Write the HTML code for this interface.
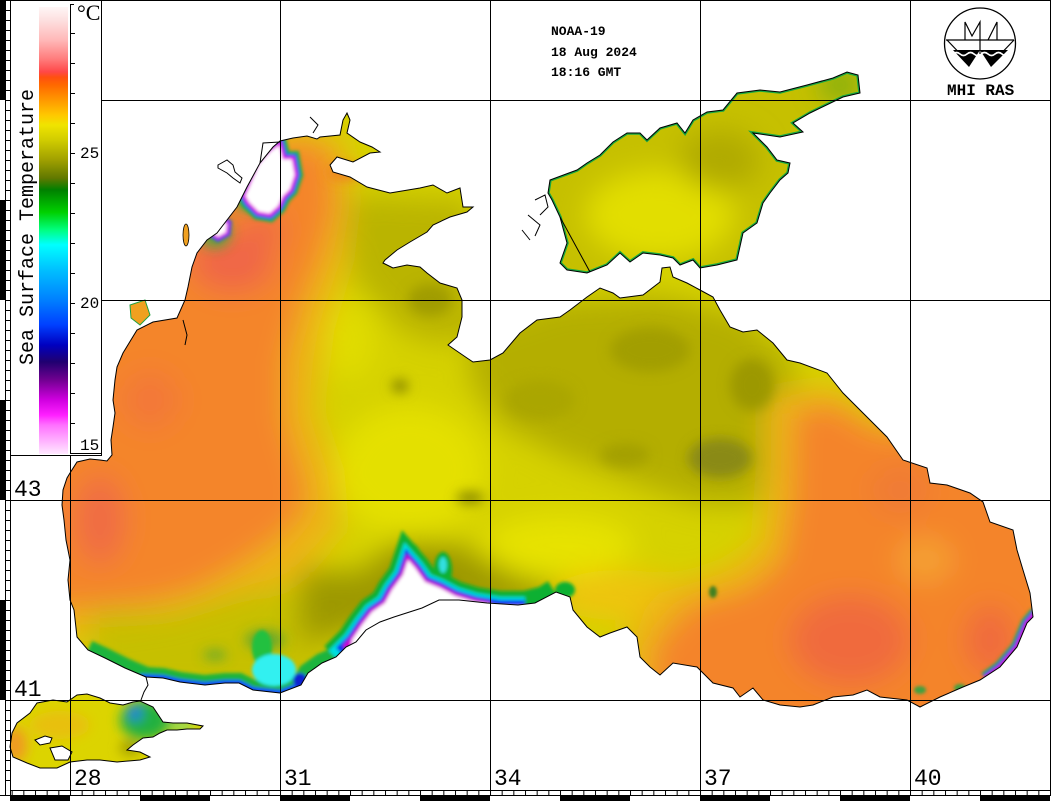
<!DOCTYPE html>
<html><head><meta charset="utf-8"><style>
html,body{margin:0;padding:0;background:#fff;}
svg{display:block;}
text{font-family:"Liberation Mono",monospace;}
</style></head><body>
<svg width="1051" height="801" viewBox="0 0 1051 801" xmlns="http://www.w3.org/2000/svg">
<defs>
<linearGradient id="cb" x1="0" y1="7" x2="0" y2="454" gradientUnits="userSpaceOnUse">
<stop offset="0" stop-color="#fff6f6"/><stop offset="0.029" stop-color="#fde0e0"/><stop offset="0.074" stop-color="#ffb8b8"/>
<stop offset="0.119" stop-color="#ff7878"/><stop offset="0.145" stop-color="#ff4848"/><stop offset="0.157" stop-color="#ff5010"/>
<stop offset="0.174" stop-color="#ff6800"/><stop offset="0.208" stop-color="#ff9800"/><stop offset="0.242" stop-color="#ffc800"/>
<stop offset="0.264" stop-color="#f0e400"/><stop offset="0.298" stop-color="#d0cc00"/><stop offset="0.342" stop-color="#a0a000"/>
<stop offset="0.383" stop-color="#607800"/><stop offset="0.409" stop-color="#008000"/><stop offset="0.459" stop-color="#00d000"/>
<stop offset="0.499" stop-color="#00ff80"/><stop offset="0.532" stop-color="#00ffff"/><stop offset="0.588" stop-color="#00c0ff"/>
<stop offset="0.655" stop-color="#0080ff"/><stop offset="0.711" stop-color="#0040ff"/><stop offset="0.756" stop-color="#0000c0"/>
<stop offset="0.794" stop-color="#200070"/><stop offset="0.834" stop-color="#700090"/><stop offset="0.879" stop-color="#d000e0"/>
<stop offset="0.913" stop-color="#ff20ff"/><stop offset="0.935" stop-color="#ff70ff"/><stop offset="1" stop-color="#ffe8ff"/>
</linearGradient>
<clipPath id="cs"><polygon points="146,677 125,668 105,658 88,650 77,637 74,610 70,600 68,580 70,560 66,540 64,520 62,505 63,490 67,478 70,473 77,462 90,459 100,460 107,461 112,455 111,440 113,427 115,413 113,400 115,380 117,367 123,353 137,330 153,322 177,318 185,300 188,287 192,267 197,253 207,240 217,233 227,220 237,207 247,187 260,163 273,147 280,141 293,138 307,136 317,139 320,137 340,135 343,120 347,113 350,120 347,133 360,142 372,147 380,152 370,153 353,162 337,157 330,165 333,172 350,177 367,187 390,193 420,188 433,185 447,193 460,188 463,207 473,207 467,212 450,217 433,225 427,232 410,242 397,250 385,260 383,263 393,268 407,265 420,267 427,273 440,283 457,288 462,300 462,317 457,337 448,345 467,358 473,362 490,360 503,353 520,333 537,320 560,317 570,310 587,297 600,288 613,293 620,298 643,295 660,282 662,268 670,267 673,277 687,283 700,290 713,297 720,310 730,327 743,332 757,330 773,343 787,360 800,363 827,373 843,393 867,417 887,437 903,460 927,468 930,483 947,485 970,493 983,502 990,522 1013,530 1017,550 1023,570 1030,593 1033,617 1027,623 1017,647 1000,667 980,680 963,687 940,697 920,707 907,700 880,697 867,690 853,695 833,697 813,705 800,707 780,705 763,700 753,688 740,697 733,688 713,683 697,667 673,663 660,675 650,667 640,657 637,637 627,627 610,633 600,637 587,627 573,610 570,597 556,592 535,603 518,605 487,603 459,600 439,600 422,608 394,617 380,622 366,630 356,642 346,647 336,657 322,663 308,673 301,685 280,693 253,690 239,683 225,683 205,685 180,682 163,678"/></clipPath>
<clipPath id="ca"><polygon points="567,270 587,273 607,265 620,253 630,262 643,253 660,255 673,258 680,265 693,260 700,268 717,265 737,260 743,233 757,223 763,203 770,193 780,180 788,173 790,163 777,160 767,147 753,133 780,137 803,132 793,123 810,113 843,97 860,93 858,75 847,72 833,78 807,85 780,92 760,90 737,93 723,110 707,112 693,120 685,133 677,123 660,128 647,140 640,133 627,133 613,142 600,155 587,163 577,170 550,180 548,193 552,200 560,217 567,243 560,263"/></clipPath>
<clipPath id="cm"><polygon points="10,747 12,733 17,723 30,713 37,703 53,700 67,702 77,695 87,694 100,698 110,703 123,705 133,702 140,701 153,707 163,722 173,723 187,723 203,726 200,729 187,729 177,730 167,730 160,733 153,737 143,738 133,745 127,750 140,752 150,757 140,760 117,762 100,760 87,760 70,762 57,768 40,768 27,763 13,757"/></clipPath>
<filter id="b14" filterUnits="userSpaceOnUse" x="0" y="0" width="1051" height="801"><feGaussianBlur stdDeviation="14"/></filter>
<filter id="b6" filterUnits="userSpaceOnUse" x="0" y="0" width="1051" height="801"><feGaussianBlur stdDeviation="6"/></filter>
<filter id="b2" filterUnits="userSpaceOnUse" x="0" y="0" width="1051" height="801"><feGaussianBlur stdDeviation="1.5"/></filter>
<pattern id="bt" x="70" y="0" width="11.6667" height="801" patternUnits="userSpaceOnUse"><rect x="0" y="790" width="1" height="5" fill="#000"/></pattern>
<pattern id="lt" x="0" y="0" width="10" height="10" patternUnits="userSpaceOnUse"><rect x="5" y="0" width="5" height="1" fill="#000"/></pattern>
</defs>

<rect x="0" y="0" width="1051" height="801" fill="#fff"/>

<!-- Black Sea -->
<g clip-path="url(#cs)">
<rect x="0" y="0" width="1051" height="801" fill="#d6d200"/>
<g filter="url(#b14)">
<polygon points="470,330 560,300 660,295 740,315 790,355 805,420 790,470 750,505 700,505 640,485 560,455 500,425 470,380" fill="#b4ae00"/>
<polygon points="340,195 470,200 480,330 440,345 400,330 355,280" fill="#bab400"/>
<ellipse cx="410" cy="470" rx="75" ry="65" fill="#e4e000"/>
<ellipse cx="560" cy="545" rx="75" ry="30" fill="#e6e200"/>
<ellipse cx="350" cy="340" rx="25" ry="40" fill="#e0dc00"/>
<ellipse cx="620" cy="595" rx="70" ry="25" fill="#eec410"/>
<polygon points="20,290 100,260 160,200 220,160 290,125 345,140 350,200 345,260 325,330 315,410 335,470 340,530 300,575 240,610 170,630 100,640 20,640" fill="#ecb414"/>
<polygon points="20,300 100,280 160,220 220,180 290,140 330,150 335,205 322,255 300,305 285,360 285,420 300,470 308,505 282,535 240,565 195,590 150,602 90,608 20,608" fill="#f4852c"/>
<ellipse cx="232" cy="262" rx="42" ry="30" fill="#f06646"/>
<ellipse cx="265" cy="230" rx="20" ry="15" fill="#f06646"/>
<ellipse cx="100" cy="520" rx="25" ry="45" fill="#f06c44"/>
<ellipse cx="150" cy="400" rx="30" ry="30" fill="#f27040" opacity="0.6"/>
<polygon points="765,395 830,385 880,420 1060,440 1060,740 620,740 625,635 660,590 730,565 760,540 765,470" fill="#ecb414"/>
<polygon points="795,410 835,405 875,430 1060,450 1060,740 650,740 655,645 690,605 750,588 782,560 792,500" fill="#f4842c"/>
<ellipse cx="850" cy="640" rx="60" ry="45" fill="#f06a3c"/>
<ellipse cx="990" cy="640" rx="25" ry="35" fill="#f06a3c"/>
<ellipse cx="900" cy="490" rx="30" ry="25" fill="#f07a34"/>
<ellipse cx="925" cy="560" rx="28" ry="22" fill="#f4a030"/>
<polygon points="90,612 170,612 250,590 330,585 345,640 300,695 90,695" fill="#c4be00" opacity="0.9"/>
<polygon points="300,570 360,572 400,540 460,545 520,578 560,588 545,612 460,606 400,612 350,632 300,642" fill="#9c9800"/>
</g>
<g filter="url(#b6)">
<ellipse cx="720" cy="458" rx="32" ry="20" fill="#8a8a12"/>
<ellipse cx="650" cy="350" rx="40" ry="22" fill="#a29e00"/>
<ellipse cx="752" cy="385" rx="22" ry="26" fill="#9c9800"/>
<ellipse cx="540" cy="400" rx="35" ry="20" fill="#aaa600"/>
<ellipse cx="430" cy="300" rx="22" ry="16" fill="#a09c00"/>
<ellipse cx="400" cy="386" rx="8" ry="6" fill="#7e7e00"/>
<ellipse cx="470" cy="498" rx="14" ry="6" fill="#868600"/>
<ellipse cx="625" cy="455" rx="25" ry="12" fill="#a4a000"/>
<ellipse cx="215" cy="232" rx="16" ry="16" fill="#30b040" opacity="0.8"/>
<ellipse cx="250" cy="200" rx="14" ry="10" fill="#30b050"/>
<ellipse cx="345" cy="172" rx="18" ry="8" fill="#f08020"/>
<ellipse cx="265" cy="640" rx="20" ry="10" fill="#40a040" opacity="0.7"/>
<ellipse cx="215" cy="655" rx="12" ry="5" fill="#40a040" opacity="0.7"/>
</g>
<g filter="url(#b2)">
<path d="M88,650 L105,658 L125,668 L146,677 L163,678 L180,682 L205,685 L225,683 L239,683 L253,690 L280,693 L301,685 L308,673 L322,663 L336,657" fill="none" stroke="#1cb43c" stroke-width="20"/>
<path d="M140,677 L163,678 L180,682 L205,685 L225,683 L239,683 L253,690 L280,693 L301,685" fill="none" stroke="#1848ff" stroke-width="6"/>
<ellipse cx="262" cy="648" rx="10" ry="18" fill="#20c040"/>
<ellipse cx="274" cy="670" rx="22" ry="16" fill="#30f0f0"/>
<ellipse cx="300" cy="680" rx="7" ry="7" fill="#1020d0"/>
<path d="M335,657 L352,640 L362,625 L372,612 L385,603 L392,590 L403,575 L408,560 L415,568 L425,582 L440,588 L455,596 L475,602 L500,606 L525,606 L545,601 L556,594" fill="none" stroke="#10b030" stroke-width="30"/>
<ellipse cx="443" cy="570" rx="9" ry="18" fill="#10b030"/>
<ellipse cx="410" cy="555" rx="10" ry="12" fill="#10b030"/>
<ellipse cx="565" cy="590" rx="10" ry="8" fill="#10b030"/>
<ellipse cx="443" cy="565" rx="4" ry="8" fill="#30e0e0"/>
<path d="M335,657 L352,640 L362,625 L372,612 L385,603 L392,590 L403,575 L408,560 L415,568 L425,582 L440,588 L455,596 L475,602 L500,606 L525,606" fill="none" stroke="#00e0e0" stroke-width="18"/>
<path d="M340,652 L352,640 L362,625 L372,612 L385,603 L392,590 L403,575 L408,560 L415,568 L425,582 L440,588 L455,596 L475,602 L500,606 L525,606" fill="none" stroke="#1030f0" stroke-width="12"/>
<path d="M345,648 L352,640 L362,625 L372,612 L385,603 L392,590 L403,575 L408,560 L415,568 L425,582 L440,588 L455,596 L475,602 L490,605" fill="none" stroke="#d000d0" stroke-width="6"/>
<polygon points="352,640 362,625 372,612 385,603 392,590 403,575 408,560 415,568 425,582 440,588 455,596 475,602 500,606 525,606 530,660 350,660" fill="#fff"/>
<polygon points="258,163 270,150 280,143 284,158 293,158 296,175 291,190 284,197 279,207 270,215 258,213 248,203 244,196" fill="none" stroke="#20b040" stroke-width="14"/>
<polygon points="258,163 270,150 280,143 284,158 293,158 296,175 291,190 284,197 279,207 270,215 258,213 248,203 244,196" fill="none" stroke="#1848ff" stroke-width="8"/>
<polygon points="258,163 270,150 280,143 284,158 293,158 296,175 291,190 284,197 279,207 270,215 258,213 248,203 244,196" fill="#fff" stroke="#e000e0" stroke-width="3"/>
<polygon points="210,224 220,219 228,223 227,233 218,238 211,233" fill="none" stroke="#1848ff" stroke-width="7"/>
<polygon points="210,224 220,219 228,223 227,233 218,238 211,233" fill="#fff" stroke="#e000e0" stroke-width="2.5"/>
<path d="M1036,612 L1027,623 L1017,647 L1000,667 L985,678" fill="none" stroke="#20b040" stroke-width="12"/>
<path d="M1036,612 L1027,623 L1017,647 L1000,667 L985,678" fill="none" stroke="#1030f0" stroke-width="8"/>
<path d="M1036,612 L1027,623 L1017,647 L1000,667 L985,678" fill="none" stroke="#e000e0" stroke-width="3.5"/>
<ellipse cx="713" cy="592" rx="4" ry="6" fill="#408020"/>
<ellipse cx="920" cy="690" rx="6" ry="4" fill="#40a040"/>
<ellipse cx="960" cy="688" rx="6" ry="4" fill="#40a040"/>
</g>
</g>
<polygon points="146,677 125,668 105,658 88,650 77,637 74,610 70,600 68,580 70,560 66,540 64,520 62,505 63,490 67,478 70,473 77,462 90,459 100,460 107,461 112,455 111,440 113,427 115,413 113,400 115,380 117,367 123,353 137,330 153,322 177,318 185,300 188,287 192,267 197,253 207,240 217,233 227,220 237,207 247,187 260,163 273,147 280,141 293,138 307,136 317,139 320,137 340,135 343,120 347,113 350,120 347,133 360,142 372,147 380,152 370,153 353,162 337,157 330,165 333,172 350,177 367,187 390,193 420,188 433,185 447,193 460,188 463,207 473,207 467,212 450,217 433,225 427,232 410,242 397,250 385,260 383,263 393,268 407,265 420,267 427,273 440,283 457,288 462,300 462,317 457,337 448,345 467,358 473,362 490,360 503,353 520,333 537,320 560,317 570,310 587,297 600,288 613,293 620,298 643,295 660,282 662,268 670,267 673,277 687,283 700,290 713,297 720,310 730,327 743,332 757,330 773,343 787,360 800,363 827,373 843,393 867,417 887,437 903,460 927,468 930,483 947,485 970,493 983,502 990,522 1013,530 1017,550 1023,570 1030,593 1033,617 1027,623 1017,647 1000,667 980,680 963,687 940,697 920,707 907,700 880,697 867,690 853,695 833,697 813,705 800,707 780,705 763,700 753,688 740,697 733,688 713,683 697,667 673,663 660,675 650,667 640,657 637,637 627,627 610,633 600,637 587,627 573,610 570,597 556,592 535,603 518,605 487,603 459,600 439,600 422,608 394,617 380,622 366,630 356,642 346,647 336,657 322,663 308,673 301,685 280,693 253,690 239,683 225,683 205,685 180,682 163,678" fill="none" stroke="#000" stroke-width="1"/>

<!-- Azov -->
<g clip-path="url(#ca)">
<rect x="540" y="60" width="330" height="220" fill="#c6c000"/>
<g filter="url(#b14)">
<ellipse cx="660" cy="215" rx="75" ry="45" fill="#e2de00"/>
<ellipse cx="720" cy="160" rx="40" ry="30" fill="#b0aa00"/>
<ellipse cx="840" cy="85" rx="20" ry="10" fill="#50a020"/>
</g>
<polygon points="567,270 587,273 607,265 620,253 630,262 643,253 660,255 673,258 680,265 693,260 700,268 717,265 737,260 743,233 757,223 763,203 770,193 780,180 788,173 790,163 777,160 767,147 753,133 780,137 803,132 793,123 810,113 843,97 860,93 858,75 847,72 833,78 807,85 780,92 760,90 737,93 723,110 707,112 693,120 685,133 677,123 660,128 647,140 640,133 627,133 613,142 600,155 587,163 577,170 550,180 548,193 552,200 560,217 567,243 560,263" fill="none" stroke="#18a840" stroke-width="3.5"/>
</g>
<polygon points="567,270 587,273 607,265 620,253 630,262 643,253 660,255 673,258 680,265 693,260 700,268 717,265 737,260 743,233 757,223 763,203 770,193 780,180 788,173 790,163 777,160 767,147 753,133 780,137 803,132 793,123 810,113 843,97 860,93 858,75 847,72 833,78 807,85 780,92 760,90 737,93 723,110 707,112 693,120 685,133 677,123 660,128 647,140 640,133 627,133 613,142 600,155 587,163 577,170 550,180 548,193 552,200 560,217 567,243 560,263" fill="none" stroke="#000" stroke-width="1"/>
<path d="M560,217 L590,272 M535,200 L545,195 L548,207 L540,215 M528,215 L540,225 L535,236 M522,230 L530,240" fill="none" stroke="#000" stroke-width="1"/>

<!-- Marmara -->
<g clip-path="url(#cm)">
<rect x="0" y="690" width="210" height="80" fill="#dcd400"/>
<g filter="url(#b6)">
<ellipse cx="15" cy="745" rx="12" ry="18" fill="#f09a20"/>
<ellipse cx="60" cy="725" rx="30" ry="14" fill="#e8c010"/>
<ellipse cx="145" cy="720" rx="25" ry="20" fill="#20b040"/>
<ellipse cx="135" cy="713" rx="6" ry="7" fill="#2060ff"/>
<ellipse cx="182" cy="726" rx="12" ry="3" fill="#30e0d0"/>
<ellipse cx="130" cy="748" rx="10" ry="6" fill="#909000"/>
</g>
<polygon points="35,740 45,736 52,738 50,743 40,745" fill="#fff" stroke="#000" stroke-width="1"/>
<polygon points="50,748 62,746 72,752 68,760 55,760" fill="#fff" stroke="#000" stroke-width="1"/>
</g>
<polygon points="10,747 12,733 17,723 30,713 37,703 53,700 67,702 77,695 87,694 100,698 110,703 123,705 133,702 140,701 153,707 163,722 173,723 187,723 203,726 200,729 187,729 177,730 167,730 160,733 153,737 143,738 133,745 127,750 140,752 150,757 140,760 117,762 100,760 87,760 70,762 57,768 40,768 27,763 13,757" fill="none" stroke="#000" stroke-width="1"/>

<!-- small outlines on land -->
<path d="M146,677 L148,685 L144,692 L141,700 M218,165 L227,160 L233,165 L235,172 L242,178 L240,183 L233,178 L227,173 L218,168 Z M260,163 L263,143 L280,142 M310,117 L318,125 L313,133 M183,320 L187,335 L185,345" fill="none" stroke="#000" stroke-width="1"/>
<ellipse cx="186" cy="235" rx="3" ry="11" fill="#f0a020" stroke="#000" stroke-width="0.8"/>
<polygon points="130,305 145,300 150,315 140,325 131,318" fill="#f0a020" stroke="#20a040" stroke-width="1"/>

<!-- grid lines -->
<g fill="#000">
<rect x="70" y="4" width="1" height="786"/>
<rect x="280" y="0" width="1" height="790"/>
<rect x="490" y="0" width="1" height="790"/>
<rect x="700" y="0" width="1" height="790"/>
<rect x="910" y="0" width="1" height="790"/>
<rect x="101" y="100" width="949" height="1"/>
<rect x="101" y="300" width="949" height="1"/>
<rect x="10" y="500" width="1040" height="1"/>
<rect x="10" y="700" width="1040" height="1"/>
<rect x="10" y="0" width="1" height="795"/>
<rect x="10" y="0" width="1041" height="1"/>
<rect x="1050" y="0" width="1" height="795"/>
<rect x="10" y="790" width="1041" height="1"/>
<rect x="0" y="795" width="1051" height="1"/>
<rect x="5" y="0" width="1" height="795"/>
<rect x="0" y="0" width="5" height="100"/>
<rect x="0" y="200" width="5" height="100"/>
<rect x="0" y="400" width="5" height="100"/>
<rect x="0" y="600" width="5" height="100"/>
<rect x="10" y="796" width="60" height="5"/>
<rect x="140" y="796" width="70" height="5"/>
<rect x="280" y="796" width="70" height="5"/>
<rect x="420" y="796" width="70" height="5"/>
<rect x="560" y="796" width="70" height="5"/>
<rect x="700" y="796" width="70" height="5"/>
<rect x="840" y="796" width="70" height="5"/>
<rect x="980" y="796" width="70" height="5"/>
</g>
<rect x="10" y="790" width="1041" height="5" fill="url(#bt)"/>
<rect x="5" y="0" width="5" height="790" fill="url(#lt)"/>

<!-- colorbar box -->
<rect x="11" y="1" width="90" height="454" fill="#fff"/>
<rect x="39" y="7" width="29" height="447" fill="url(#cb)"/>
<g fill="#000">
<rect x="101" y="0" width="1" height="456"/>
<rect x="10" y="455" width="92" height="1"/>
<rect x="70" y="4" width="1" height="450"/>
<rect x="70" y="4" width="4" height="1"/>
<rect x="70" y="453" width="31" height="1"/>
<rect x="70" y="33" width="5" height="1"/><rect x="70" y="63" width="5" height="1"/><rect x="70" y="93" width="5" height="1"/>
<rect x="70" y="123" width="5" height="1"/><rect x="70" y="153" width="5" height="1"/><rect x="70" y="183" width="5" height="1"/>
<rect x="70" y="213" width="5" height="1"/><rect x="70" y="243" width="5" height="1"/><rect x="70" y="273" width="5" height="1"/>
<rect x="70" y="303" width="5" height="1"/><rect x="70" y="333" width="5" height="1"/><rect x="70" y="363" width="5" height="1"/>
<rect x="70" y="393" width="5" height="1"/><rect x="70" y="423" width="5" height="1"/>
</g>
<text x="80" y="158" font-size="16" fill="#000">25</text>
<text x="80" y="308" font-size="16" fill="#000">20</text>
<text x="80" y="450" font-size="16" fill="#000">15</text>
<text x="77" y="20" font-size="22" fill="#000" style="font-family:'Liberation Serif',serif">°C</text>
<text transform="translate(33,365) rotate(-90)" font-size="20" fill="#000">Sea Surface Temperature</text>

<!-- axis labels -->
<g font-size="23" fill="#000">
<text x="14" y="496">43</text>
<text x="14" y="696">41</text>
<text x="74" y="785">28</text>
<text x="284" y="785">31</text>
<text x="494" y="785">34</text>
<text x="704" y="785">37</text>
<text x="914" y="785">40</text>
</g>

<!-- header text -->
<g font-size="13" font-weight="bold" fill="#000">
<text x="551" y="35">NOAA-19</text>
<text x="551" y="56">18 Aug 2024</text>
<text x="551" y="76">18:16 GMT</text>
</g>

<!-- logo -->
<circle cx="980" cy="43.5" r="35.5" fill="#fff" stroke="#000" stroke-width="1.3"/>
<line x1="946" y1="40" x2="1014" y2="40" stroke="#000" stroke-width="1.2"/>
<path d="M947,40 L968,62 M1014,40 L993,62" stroke="#000" stroke-width="1.2" fill="none"/>
<polygon points="953,50 980,50 969,67" fill="#000"/>
<polygon points="980,50 1008,50 991,67" fill="#000"/>
<path d="M953,54 q3.5,-3 7,0 t7,0 t7,0 t7,0 t7,0 t7,0 t7,0 t7,0" stroke="#fff" stroke-width="1.6" fill="none"/>
<path d="M965,40 L965,22 L972,36 L980,22 L980,54 M988,40 L997,22 L997,40" stroke="#000" stroke-width="1.2" fill="none"/>
<text x="947" y="95" font-size="16" font-weight="bold" fill="#000">MHI RAS</text>
</svg>
</body></html>
